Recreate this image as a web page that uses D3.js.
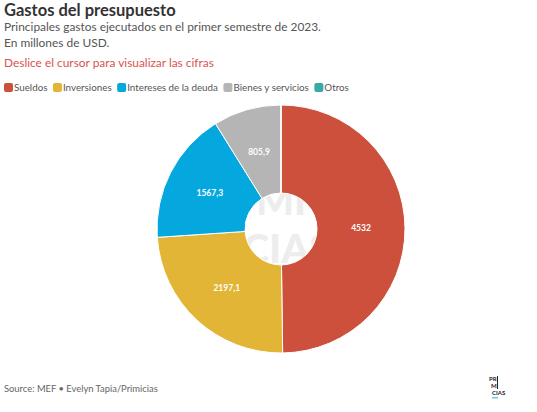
<!DOCTYPE html>
<html>
<head>
<meta charset="utf-8">
<script src="https://cdnjs.cloudflare.com/ajax/libs/d3/7.9.0/d3.min.js"></script>
<style>
  html, body { margin: 0; padding: 0; background: #fff; }
  svg { display: block; font-family: Lato, 'Noto Sans', sans-serif; }
</style>
</head>
<body>
<svg id="chart" width="537" height="412"></svg>
<script>
const categories = ['Sueldos', 'Inversiones', 'Intereses de la deuda', 'Bienes y servicios', 'Otros'];
const values = [4532, 2197.1, 1567.3, 805.9, 0];
const labels = ['4532', '2197,1', '1567,3', '805,9', ''];
const colors = ['#CD503D', '#E2B536', '#05A8DE', '#B5B5B5', '#3AA8A4'];

const W = 537, H = 412;
const cx = 281, cy = 229, R = 124, r0 = 36;

const svg = d3.select('#chart');

// titulos
svg.append('text').attr('x', 4).attr('y', 16)
  .attr('font-size', 16.5).attr('font-weight', 700).attr('fill', '#333')
  .text('Gastos del presupuesto');
svg.append('text').attr('x', 4).attr('y', 31)
  .attr('font-size', 11.9).attr('fill', '#555')
  .text('Principales gastos ejecutados en el primer semestre de 2023.');
svg.append('text').attr('x', 4).attr('y', 47)
  .attr('font-size', 11.9).attr('fill', '#555')
  .text('En millones de USD.');
svg.append('text').attr('x', 4).attr('y', 67)
  .attr('font-size', 11.9).attr('fill', '#D9534F')
  .text('Deslice el cursor para visualizar las cifras');

// leyenda
const legend = svg.append('g');
let lx = 4;
categories.forEach((c, i) => {
  legend.append('rect').attr('x', lx).attr('y', 83).attr('width', 9).attr('height', 9)
    .attr('rx', 2).attr('fill', colors[i]);
  const t = legend.append('text').attr('x', lx + 10).attr('y', 91)
    .attr('font-size', 9.8).attr('fill', '#555').text(c);
  lx += 10 + t.node().getComputedTextLength() + 5.5;
});

// marca de agua en el hueco
const clip = svg.append('clipPath').attr('id', 'hole');
clip.append('circle').attr('cx', cx).attr('cy', cy).attr('r', r0);
const wm = svg.append('g').attr('clip-path', 'url(#hole)')
  .attr('fill', '#ededed').attr('font-weight', 900)
  .attr('font-size', 40).attr('text-anchor', 'middle');
wm.append('text').attr('x', cx).attr('y', cy - 14).text('MI');
wm.append('text').attr('x', cx + 6).attr('y', cy + 34).text('CIAS');

// dona
const pie = d3.pie().sort(null).value(d => d)(values);
const arc = d3.arc().innerRadius(r0).outerRadius(R);
const g = svg.append('g').attr('transform', `translate(${cx},${cy})`);
g.selectAll('path').data(pie).join('path')
  .attr('d', arc)
  .attr('fill', (d, i) => colors[i])
  .attr('stroke', '#fff').attr('stroke-width', 1);

g.selectAll('text').data(pie).join('text')
  .attr('transform', d => `translate(${arc.centroid(d)})`)
  .attr('dy', '0.35em').attr('text-anchor', 'middle')
  .attr('font-size', 8.5).attr('font-weight', 700).attr('fill', '#fff')
  .text((d, i) => labels[i]);

// pie de pagina
svg.append('text').attr('x', 4).attr('y', 392)
  .attr('font-size', 9.4).attr('fill', '#666')
  .text('Source: MEF • Evelyn Tapia/Primicias');

const logo = svg.append('g').attr('font-size', 6).attr('font-weight', 700).attr('fill', '#222');
logo.append('text').attr('x', 489).attr('y', 381).text('PR');
logo.append('text').attr('x', 491).attr('y', 388).text('M');
logo.append('text').attr('x', 492).attr('y', 395).text('CIAS');
logo.append('rect').attr('x', 497).attr('y', 376).attr('width', 1).attr('height', 13).attr('fill', '#222');
logo.append('rect').attr('x', 492).attr('y', 397).attr('width', 6).attr('height', 1.5).attr('fill', '#6CC4EC');
</script>
</body>
</html>
